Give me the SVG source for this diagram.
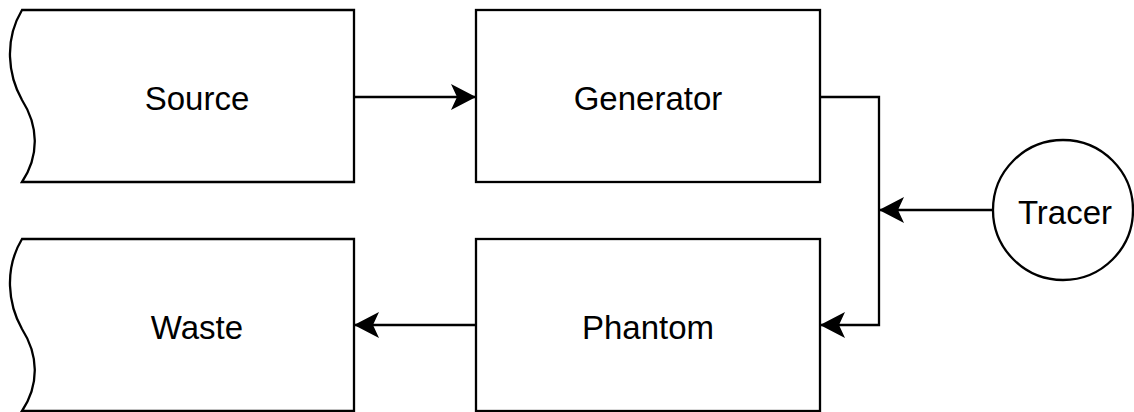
<svg xmlns="http://www.w3.org/2000/svg" width="1134" height="412" viewBox="0 0 1134 412">
  <style>
    .shape { fill: #ffffff; stroke: #000000; stroke-width: 2.3; }
    .label { font-family: "Liberation Sans", Arial, sans-serif; font-size: 33px; fill: #000000; text-anchor: middle; dominant-baseline: central; }
    .edge { fill: none; stroke: #000000; stroke-width: 2.3; marker-end: url(#arrow); }
  </style>
  <defs>
    <marker id="arrow" markerUnits="userSpaceOnUse" viewBox="-26 -14 28 28" refX="0" refY="0" markerWidth="28" markerHeight="28" orient="auto">
      <path d="M0,0 L-25,-13 L-19,0 L-25,13 Z" fill="#000000" stroke="none"/>
    </marker>
  </defs>

  <g id="source">
    <path class="shape" d="M22,10 H354 V182 H22 C40,155 38,125 22,100 C8,75 4,40 22,10 Z"/>
    <text class="label" x="197" y="98">Source</text>
  </g>

  <g id="generator">
    <rect class="shape" x="476" y="10" width="344" height="172"/>
    <text class="label" x="648" y="98">Generator</text>
  </g>

  <g id="waste">
    <path class="shape" d="M22,239 H354 V411 H22 C40,384 38,354 22,329 C8,304 4,269 22,239 Z"/>
    <text class="label" x="197" y="327">Waste</text>
  </g>

  <g id="phantom">
    <rect class="shape" x="476" y="239" width="344" height="172"/>
    <text class="label" x="648" y="327">Phantom</text>
  </g>

  <g id="tracer">
    <circle class="shape" cx="1063" cy="210" r="70"/>
    <text class="label" x="1065" y="212">Tracer</text>
  </g>

  <g id="connectors">
    <path class="edge" d="M354,97 H476"/>
    <path class="edge" d="M820,97 H879 V325 H820"/>
    <path class="edge" d="M993,210 H879"/>
    <path class="edge" d="M476,325 H354"/>
  </g>
</svg>
